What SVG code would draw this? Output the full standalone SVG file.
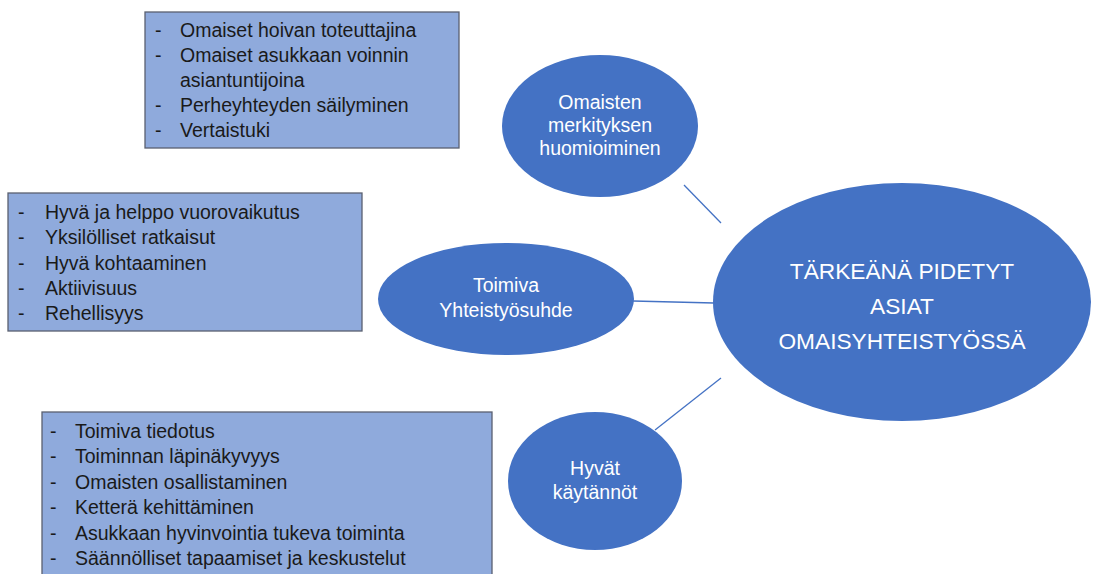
<svg xmlns="http://www.w3.org/2000/svg" width="1093" height="574" viewBox="0 0 1093 574">
<style>
.box{fill:#8FAADC;stroke:#5a6070;stroke-width:1.3}
.bt{font-family:"Liberation Sans",Arial,sans-serif;font-size:19.5px;fill:#1a1a1a}
.ell{fill:#4472C4}
.et{font-family:"Liberation Sans",Arial,sans-serif;font-size:19.5px;fill:#ffffff;text-anchor:middle}
.ct{font-family:"Liberation Sans",Arial,sans-serif;font-size:22.7px;fill:#ffffff;text-anchor:middle}
.con{stroke:#4472C4;stroke-width:1.3;fill:none}
</style>
<rect width="1093" height="574" fill="#ffffff"/>
<g id="connectors">
<line class="con" x1="684" y1="185" x2="721" y2="223"/>
<line class="con" x1="633" y1="301" x2="714" y2="303"/>
<line class="con" x1="655" y1="430" x2="721" y2="378"/>
</g>
<g id="box-omaisten">
<rect class="box" x="145" y="12" width="314" height="136"/>
<g class="bt">
<text x="155" y="37">-</text><text x="180" y="37">Omaiset hoivan toteuttajina</text>
<text x="155" y="62">-</text><text x="180" y="62">Omaiset asukkaan voinnin</text>
<text x="180" y="87">asiantuntijoina</text>
<text x="155" y="112">-</text><text x="180" y="112">Perheyhteyden säilyminen</text>
<text x="155" y="137">-</text><text x="180" y="137">Vertaistuki</text>
</g>
</g>
<g id="box-toimiva">
<rect class="box" x="8" y="193" width="354" height="138"/>
<g class="bt">
<text x="18" y="219">-</text><text x="45" y="219">Hyvä ja helppo vuorovaikutus</text>
<text x="18" y="244">-</text><text x="45" y="244">Yksilölliset ratkaisut</text>
<text x="18" y="270">-</text><text x="45" y="270">Hyvä kohtaaminen</text>
<text x="18" y="295">-</text><text x="45" y="295">Aktiivisuus</text>
<text x="18" y="320">-</text><text x="45" y="320">Rehellisyys</text>
</g>
</g>
<g id="box-hyvat">
<rect class="box" x="42" y="412" width="450" height="170"/>
<g class="bt">
<text x="50" y="438">-</text><text x="75" y="438">Toimiva tiedotus</text>
<text x="50" y="463">-</text><text x="75" y="463">Toiminnan läpinäkyvyys</text>
<text x="50" y="489">-</text><text x="75" y="489">Omaisten osallistaminen</text>
<text x="50" y="514">-</text><text x="75" y="514">Ketterä kehittäminen</text>
<text x="50" y="540">-</text><text x="75" y="540">Asukkaan hyvinvointia tukeva toiminta</text>
<text x="50" y="565">-</text><text x="75" y="565">Säännölliset tapaamiset ja keskustelut</text>
</g>
</g>
<g id="node-omaisten">
<ellipse class="ell" cx="600" cy="126" rx="98" ry="71"/>
<text class="et" x="600" y="109">Omaisten</text>
<text class="et" x="600" y="132">merkityksen</text>
<text class="et" x="600" y="155">huomioiminen</text>
</g>
<g id="node-toimiva">
<ellipse class="ell" cx="506" cy="299" rx="128" ry="56"/>
<text class="et" x="506" y="292">Toimiva</text>
<text class="et" x="506" y="317">Yhteistyösuhde</text>
</g>
<g id="node-hyvat">
<ellipse class="ell" cx="595" cy="481" rx="87" ry="69"/>
<text class="et" x="595" y="475">Hyvät</text>
<text class="et" x="595" y="499">käytännöt</text>
</g>
<g id="node-center">
<ellipse class="ell" cx="902" cy="302" rx="189" ry="119"/>
<text class="ct" x="902" y="279">TÄRKEÄNÄ PIDETYT</text>
<text class="ct" x="902" y="314">ASIAT</text>
<text class="ct" x="902" y="349">OMAISYHTEISTYÖSSÄ</text>
</g>
</svg>
